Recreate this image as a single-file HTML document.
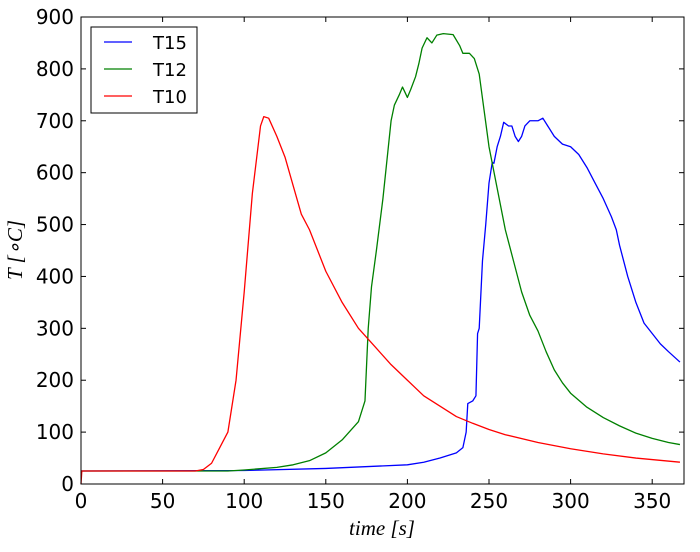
<!DOCTYPE html>
<html><head><meta charset="utf-8"><style>
body{margin:0;background:#fff}
svg text{font-family:"DejaVu Sans","Liberation Sans",sans-serif}
</style></head><body>
<svg id="chart" width="700" height="547" xmlns="http://www.w3.org/2000/svg">
<rect width="700" height="547" fill="#fff"/>
<g id="ticks"></g>
<g id="lines"></g>
<rect x="81" y="17" width="603" height="467" fill="none" stroke="#000" stroke-width="1"/>
<text x="382" y="535" text-anchor="middle" font-style="italic" font-size="21" style="font-family:'Liberation Serif',serif">time [s]</text>
<text transform="translate(22,250) rotate(-90)" text-anchor="middle" font-size="21" font-style="italic" style="font-family:'Liberation Serif',serif">T [∘C]</text>
<g>
<rect x="91" y="27" width="106" height="86" fill="#fff" stroke="#000" stroke-width="1"/>
<line x1="104" y1="42" x2="132" y2="42" stroke="#0000ff" stroke-width="1.3"/>
<text x="153" y="49" font-size="18">T15</text>
<line x1="104" y1="69" x2="132" y2="69" stroke="#008000" stroke-width="1.3"/>
<text x="153" y="76" font-size="18">T12</text>
<line x1="104" y1="96" x2="132" y2="96" stroke="#ff0000" stroke-width="1.3"/>
<text x="153" y="103" font-size="18">T10</text>
</g>
</svg>
<script>
const xTicks=[0,50,100,150,200,250,300,350];
const yTicks=[0,100,200,300,400,500,600,700,800,900];
const t10X=[0,0.5,70,75,80,85,90,95,100,105,110,112,115,120,125,130,135,140,145,150,160,170,180,190,200,210,220,230,240,250,260,280,300,320,340,367];
const t10Y=[0,25,25,28,40,70,100,200,370,560,690,708,705,670,630,575,520,490,450,410,350,300,265,230,200,170,150,130,117,105,95,80,68,58,50,42];
const t12X=[0,90,100,120,130,140,150,160,170,174,176,178,181,185,188,190,192,195,197,200,202,205,207,209,212,215,218,222,228,232,234,238,241,244,247,250,255,260,265,270,275,280,285,290,295,300,310,320,330,340,350,360,367];
const t12Y=[25,25,27,32,37,45,60,85,120,160,300,380,450,550,640,700,730,750,765,745,760,785,810,840,860,850,865,868,866,845,830,830,820,790,720,650,570,490,430,370,325,295,255,220,195,175,148,128,112,98,88,80,76];
const t15X=[0,100,150,200,210,220,230,234,236,237,240,242,243,244,246,248,250,252,253,255,257,259,262,264,266,268,270,272,275,280,283,286,290,295,300,305,310,315,320,325,328,330,335,340,345,350,355,360,367];
const t15Y=[25,26,30,37,42,50,60,70,100,155,160,170,290,300,430,500,580,620,618,650,670,697,690,690,670,660,670,690,700,700,705,690,670,655,650,635,610,580,550,515,490,460,400,350,310,290,270,255,235];
const NS="http://www.w3.org/2000/svg";
const sx=v=>81+v*1.632, sy=v=>484-v*467/900;
const tg=document.getElementById('ticks'), lg=document.getElementById('lines');
function mk(t,a,p){const e=document.createElementNS(NS,t);for(const k in a)e.setAttribute(k,a[k]);p.appendChild(e);return e;}
xTicks.forEach(v=>{
  const x=sx(v);
  mk('line',{x1:x,y1:484,x2:x,y2:479,stroke:'#000'},tg);
  mk('line',{x1:x,y1:17,x2:x,y2:22,stroke:'#000'},tg);
  const t=mk('text',{x:x,y:508,'text-anchor':'middle','font-size':'20'},tg);
  
  
  t.textContent=v;
});
yTicks.forEach(v=>{
  const y=sy(v);
  mk('line',{x1:81,y1:y,x2:86,y2:y,stroke:'#000'},tg);
  mk('line',{x1:684,y1:y,x2:679,y2:y,stroke:'#000'},tg);
  const t=mk('text',{x:74,y:y+7,'text-anchor':'end','font-size':'20'},tg);
  
  
  t.textContent=v;
});
function series(xs,ys,c,name){
  const p=mk('polyline',{points:xs.map((x,i)=>sx(x)+','+sy(ys[i])).join(' '),fill:'none',stroke:c,'stroke-width':'1.3','stroke-linejoin':'round'},lg);
  
  
}
series(t15X,t15Y,'#0000ff','series-t15');
series(t12X,t12Y,'#008000','series-t12');
series(t10X,t10Y,'#ff0000','series-t10');
</script>
</body></html>
